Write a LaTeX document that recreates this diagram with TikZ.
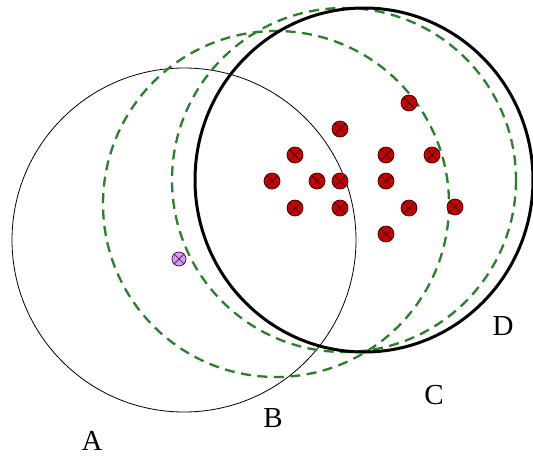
\documentclass[tikz,border=0pt]{standalone}
\usepackage{fontspec}
\setmainfont{Liberation Serif}
\definecolor{dashgreen}{RGB}{40,128,40}
\definecolor{dotred}{RGB}{200,0,0}
\definecolor{dotlilac}{RGB}{200,160,235}
\tikzset{
  % --- the four balls ---------------------------------------------------------
  ballthin/.style={black,line width=0.8pt},
  ballgreen/.style={dashgreen,line width=2.3pt,dash pattern=on 10pt off 6.5pt},
  ballthick/.style={black,line width=3pt},
  % --- sample points ---------------------------------------------------------
  pt/.style={circle,draw=black!80!red,fill=dotred,inner sep=0pt,
             minimum size=16pt,line width=0.7pt},
  query/.style={pt,fill=dotlilac,draw=violet!70!black,minimum size=14pt},
  xmark/.style={black!75!red,line width=0.8pt},
  qmark/.style={violet!70!black,line width=0.7pt},
  % --- letters ---------------------------------------------------------------
  lab/.style={font=\fontsize{29}{31}\selectfont,inner sep=0pt},
}

\begin{document}
\begin{tikzpicture}[x=1pt, y=-1pt]
  \useasboundingbox (0,0) rectangle (533,456);

  \draw[ballthin]  (184,240) circle[radius=172];
  \draw[ballgreen] (276,204) circle[radius=173];
  \draw[ballgreen] (344,180) circle[radius=172];
  \draw[ballthick] (364,180) circle[x radius=169, y radius=172];

  % {name}{x}{y} of the red points, on a 23 x 26 grid
  \foreach \n/\x/\y in {%
      1/409/103, 2/340/129, 3/295/155, 4/386/155, 5/432/155,
      6/272/181, 7/317/181, 8/340/181, 9/386/181,
      10/295/208, 11/340/208, 12/409/208, 13/455/207, 14/386/234}
  {
    \node[pt] (p\n) at (\x,\y) {};
    \draw[xmark] (p\n.north east) -- (p\n.south west)
                 (p\n.north west) -- (p\n.south east);
  }

  % the query point
  \node[query] (q) at (179,259) {};
  \draw[qmark] (q.north east) -- (q.south west)
               (q.north west) -- (q.south east);

  \node[lab] (labA) at (92,441)  {A};
  \node[lab] (labB) at (273,418) {B};
  \node[lab] (labC) at (434,395) {C};
  \node[lab] (labD) at (503,326) {D};
\end{tikzpicture}
\end{document}
